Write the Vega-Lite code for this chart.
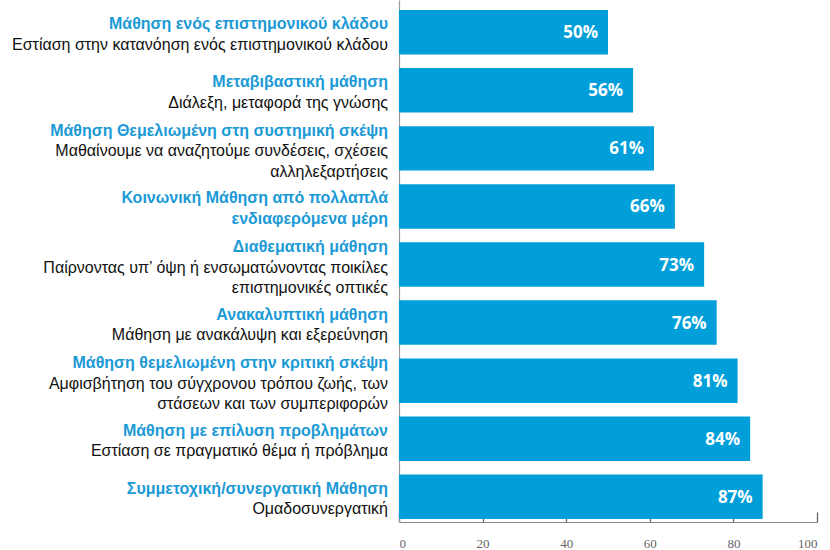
{
  "$schema": "https://vega.github.io/schema/vega-lite/v6.json",
  "autosize": "none",
  "width": 418,
  "height": 522,
  "padding": {"left": 399, "top": 0, "right": 13, "bottom": 28},
  "background": "white",
  "config": {"view": {"stroke": null}},
  "data": {
    "values": [
      {"key": "k1", "t1": "Μάθηση ενός επιστημονικού κλάδου", "t2": "", "s1": "Εστίαση στην κατανόηση ενός επιστημονικού κλάδου", "s2": "", "value": 50, "label": "50%"},
      {"key": "k2", "t1": "Μεταβιβαστική μάθηση", "t2": "", "s1": "Διάλεξη, μεταφορά της γνώσης", "s2": "", "value": 56, "label": "56%"},
      {"key": "k3", "t1": "Μάθηση Θεμελιωμένη στη συστημική σκέψη", "t2": "", "s1": "Μαθαίνουμε να αναζητούμε συνδέσεις, σχέσεις", "s2": "αλληλεξαρτήσεις", "value": 61, "label": "61%"},
      {"key": "k4", "t1": "Κοινωνική Μάθηση από πολλαπλά", "t2": "ενδιαφερόμενα μέρη", "s1": "", "s2": "", "value": 66, "label": "66%"},
      {"key": "k5", "t1": "Διαθεματική μάθηση", "t2": "", "s1": "Παίρνοντας υπ’ όψη ή ενσωματώνοντας ποικίλες", "s2": "επιστημονικές οπτικές", "value": 73, "label": "73%"},
      {"key": "k6", "t1": "Ανακαλυπτική μάθηση", "t2": "", "s1": "Μάθηση με ανακάλυψη και εξερεύνηση", "s2": "", "value": 76, "label": "76%"},
      {"key": "k7", "t1": "Μάθηση θεμελιωμένη στην κριτική σκέψη", "t2": "", "s1": "Αμφισβήτηση του σύγχρονου τρόπου ζωής, των", "s2": "στάσεων και των συμπεριφορών", "value": 81, "label": "81%"},
      {"key": "k8", "t1": "Μάθηση με επίλυση προβλημάτων", "t2": "", "s1": "Εστίαση σε πραγματικό θέμα ή πρόβλημα", "s2": "", "value": 84, "label": "84%"},
      {"key": "k9", "t1": "Συμμετοχική/συνεργατική Μάθηση", "t2": "", "s1": "Ομαδοσυνεργατική", "s2": "", "value": 87, "label": "87%"}
    ]
  },
  "encoding": {
    "y": {
      "field": "key",
      "type": "nominal",
      "sort": null,
      "scale": {"paddingInner": 0.234, "paddingOuter": 0.112, "align": 0.77},
      "axis": {"title": null, "labels": false, "ticks": false, "domain": true, "domainColor": "#9a9a9a", "domainWidth": 1.2}
    }
  },
  "layer": [
    {
      "mark": {"type": "bar", "color": "#009fda"},
      "encoding": {
        "x": {
          "field": "value",
          "type": "quantitative",
          "scale": {"domain": [0, 100]},
          "axis": {
            "title": null,
            "values": [0, 20, 40, 60, 80, 100],
            "grid": false,
            "domainColor": "#888888",
            "domainWidth": 1.2,
            "tickColor": "#666666",
            "tickWidth": 1.3,
            "tickSize": -10,
            "labelPadding": 25,
            "labelColor": "#666666",
            "labelFont": "Liberation Sans Narrow",
            "labelFontSize": 13
          }
        }
      }
    },
    {
      "mark": {"type": "text", "align": "right", "baseline": "middle", "dx": -10, "dy": 1, "color": "white", "font": "Open Sans", "fontWeight": "bold", "fontSize": 17},
      "encoding": {
        "x": {"field": "value", "type": "quantitative"},
        "text": {"field": "label", "type": "nominal"}
      }
    },
    {
      "transform": [{"filter": "datum.s2 == ''"}],
      "mark": {"type": "text", "align": "right", "baseline": "middle", "dx": -11, "dy": -8, "color": "#1b9ad6", "font": "Liberation Sans", "fontWeight": "bold", "fontSize": 16, "letterSpacing": 1.1},
      "encoding": {"x": {"datum": 0, "type": "quantitative"}, "text": {"field": "t1", "type": "nominal"}}
    },
    {
      "transform": [{"filter": "datum.s2 != ''"}],
      "mark": {"type": "text", "align": "right", "baseline": "middle", "dx": -11, "dy": -17.5, "color": "#1b9ad6", "font": "Liberation Sans", "fontWeight": "bold", "fontSize": 16, "letterSpacing": 1.1},
      "encoding": {"x": {"datum": 0, "type": "quantitative"}, "text": {"field": "t1", "type": "nominal"}}
    },
    {
      "transform": [{"filter": "datum.t2 != ''"}],
      "mark": {"type": "text", "align": "right", "baseline": "middle", "dx": -11, "dy": 12.5, "color": "#1b9ad6", "font": "Liberation Sans", "fontWeight": "bold", "fontSize": 16, "letterSpacing": 1.1},
      "encoding": {"x": {"datum": 0, "type": "quantitative"}, "text": {"field": "t2", "type": "nominal"}}
    },
    {
      "transform": [{"filter": "datum.s1 != '' && datum.s2 == ''"}],
      "mark": {"type": "text", "align": "right", "baseline": "middle", "dx": -11, "dy": 12.5, "color": "#111111", "font": "Liberation Sans", "fontSize": 16},
      "encoding": {"x": {"datum": 0, "type": "quantitative"}, "text": {"field": "s1", "type": "nominal"}}
    },
    {
      "transform": [{"filter": "datum.s2 != ''"}],
      "mark": {"type": "text", "align": "right", "baseline": "middle", "dx": -11, "dy": 3, "color": "#111111", "font": "Liberation Sans", "fontSize": 16},
      "encoding": {"x": {"datum": 0, "type": "quantitative"}, "text": {"field": "s1", "type": "nominal"}}
    },
    {
      "transform": [{"filter": "datum.s2 != ''"}],
      "mark": {"type": "text", "align": "right", "baseline": "middle", "dx": -11, "dy": 23.5, "color": "#111111", "font": "Liberation Sans", "fontSize": 16},
      "encoding": {"x": {"datum": 0, "type": "quantitative"}, "text": {"field": "s2", "type": "nominal"}}
    }
  ]
}
